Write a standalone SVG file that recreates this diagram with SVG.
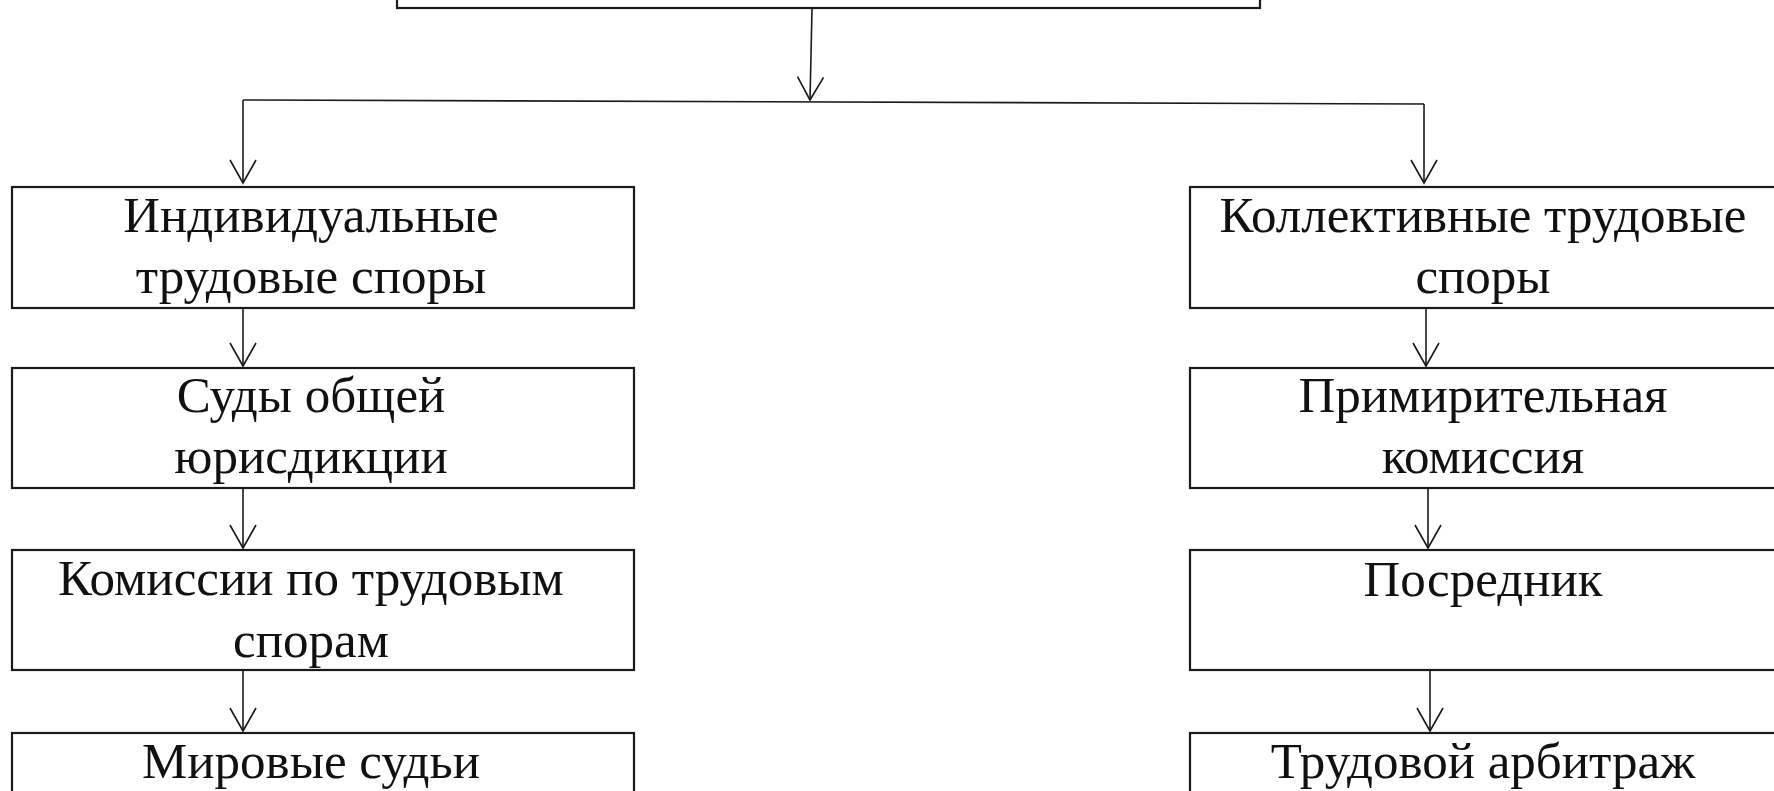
<svg xmlns="http://www.w3.org/2000/svg" width="1774" height="791" viewBox="0 0 1774 791">
  <style>
    .box { fill: #ffffff; stroke: #1a1a1a; stroke-width: 2.2; }
    .lbl { font-family: "Liberation Serif", "Times New Roman", serif; font-size: 51px; fill: #111111; text-anchor: middle; }
    .con { fill: none; stroke: #1a1a1a; stroke-width: 1.6; }
  </style>
  <defs>
    <marker id="arr" viewBox="-25 -15 27 30" refX="0" refY="0" markerWidth="27" markerHeight="30" markerUnits="userSpaceOnUse" orient="auto">
      <path d="M -23 -13 L 0 0 L -23 13" fill="none" stroke="#1a1a1a" stroke-width="1.6"/>
    </marker>
  </defs>
  <rect width="1774" height="791" fill="#ffffff"/>

  <g id="top">
    <rect class="box" x="397" y="-60" width="863" height="68"/>
  </g>

  <g id="individual">
    <rect class="box" x="12" y="187" width="622" height="121"/>
    <text class="lbl" x="311" y="232">Индивидуальные</text>
    <text class="lbl" x="311" y="293">трудовые споры</text>
  </g>
  <g id="courts">
    <rect class="box" x="12" y="368" width="622" height="120"/>
    <text class="lbl" x="311" y="412">Суды общей</text>
    <text class="lbl" x="311" y="473">юрисдикции</text>
  </g>
  <g id="kts">
    <rect class="box" x="12" y="550" width="622" height="120"/>
    <text class="lbl" x="311" y="595">Комиссии по трудовым</text>
    <text class="lbl" x="311" y="657">спорам</text>
  </g>
  <g id="magistrates">
    <rect class="box" x="12" y="733" width="622" height="120"/>
    <text class="lbl" x="311" y="778">Мировые судьи</text>
  </g>

  <g id="collective">
    <rect class="box" x="1190" y="187" width="622" height="121"/>
    <text class="lbl" x="1483" y="232">Коллективные трудовые</text>
    <text class="lbl" x="1483" y="293">споры</text>
  </g>
  <g id="conciliation">
    <rect class="box" x="1190" y="368" width="622" height="120"/>
    <text class="lbl" x="1483" y="412">Примирительная</text>
    <text class="lbl" x="1483" y="473">комиссия</text>
  </g>
  <g id="mediator">
    <rect class="box" x="1190" y="550" width="622" height="120"/>
    <text class="lbl" x="1483" y="596">Посредник</text>
  </g>
  <g id="arbitration">
    <rect class="box" x="1190" y="733" width="622" height="120"/>
    <text class="lbl" x="1483" y="778">Трудовой арбитраж</text>
  </g>

  <g id="connectors">
    <path class="con" d="M 812 9 L 810 100" marker-end="url(#arr)"/>
    <path class="con" d="M 243 100 L 1424 104"/>
    <path class="con" d="M 243 100 L 243 183" marker-end="url(#arr)"/>
    <path class="con" d="M 1424 104 L 1424 183" marker-end="url(#arr)"/>
    <path class="con" d="M 243 309 L 243 366" marker-end="url(#arr)"/>
    <path class="con" d="M 243 489 L 243 548" marker-end="url(#arr)"/>
    <path class="con" d="M 243 671 L 243 731" marker-end="url(#arr)"/>
    <path class="con" d="M 1426 309 L 1426 366" marker-end="url(#arr)"/>
    <path class="con" d="M 1428 489 L 1428 548" marker-end="url(#arr)"/>
    <path class="con" d="M 1430 671 L 1430 731" marker-end="url(#arr)"/>
  </g>
</svg>
